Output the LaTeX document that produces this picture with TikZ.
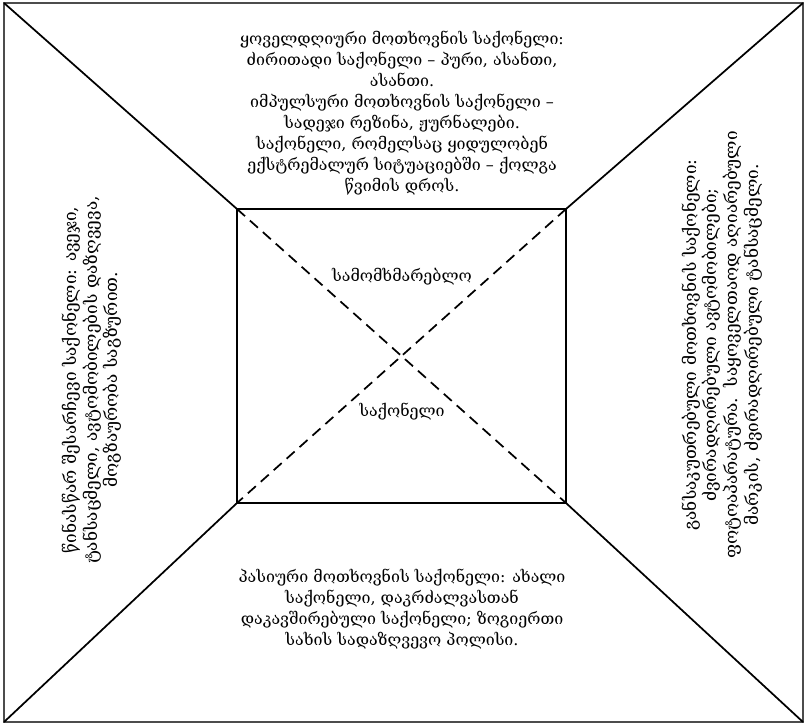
\documentclass[tikz,border=0pt]{standalone}
\usepackage{fontspec}
\newfontfamily\geo{DejaVu Serif}
\begin{document}
\begin{tikzpicture}[x=0.75pt,y=-0.75pt,
  ln/.style={draw=black,line width=1.3pt},
  txt/.style={font=\geo\fontsize{12}{15.75}\selectfont,align=center,inner sep=0pt},
  sidetxt/.style={font=\geo\fontsize{12.9}{15.5}\selectfont,align=center,inner sep=0pt,rotate=90}]
\useasboundingbox (0,0) rectangle (805,725);
\coordinate (O1) at (4,3);
\coordinate (O2) at (803,3);
\coordinate (O3) at (803,722);
\coordinate (O4) at (4,722);
\coordinate (I1) at (237,209);
\coordinate (I2) at (566,209);
\coordinate (I3) at (566,503);
\coordinate (I4) at (237,503);
\draw[ln,draw=black!70] (O1) -- (O2) -- (O3) -- (O4) -- cycle;
\draw[ln] (I1) -- (I2) -- (I3) -- (I4) -- cycle;
\draw[ln] (O1) -- (I1);
\draw[ln] (O2) -- (I2);
\draw[ln] (O3) -- (I3);
\draw[ln] (O4) -- (I4);
\draw[ln,dash pattern=on 8pt off 5pt] (I1) -- (I3);
\draw[ln,dash pattern=on 8pt off 5pt] (I2) -- (I4);
\node[txt] (top) at (402,113) {ყოველდღიური მოთხოვნის საქონელი:\\ძირითადი საქონელი – პური, ასანთი,\\ასანთი.\\იმპულსური მოთხოვნის საქონელი –\\სადეჯი რეზინა, ჟურნალები.\\საქონელი, რომელსაც ყიდულობენ\\ექსტრემალურ სიტუაციებში – ქოლგა\\წვიმის დროს.};
\node[txt,fill=white,inner sep=1pt] (c1) at (402,277) {სამომხმარებლო};
\node[txt,fill=white,inner sep=1pt] (c2) at (402,412) {საქონელი};
\node[txt] (bot) at (402,609) {პასიური მოთხოვნის საქონელი: ახალი\\საქონელი, დაკრძალვასთან\\დაკავშირებული საქონელი; ზოგიერთი\\სახის სადაზღვევო პოლისი.};
\node[sidetxt] (lft) at (92,380) {წინასწარ შესარჩევი საქონელი: ავეჯი,\\ტანსაცმელი, ავტომობილების დაზღვევა,\\მოგზაურობა საგზურით.};
\node[sidetxt] (rgt) at (722,345) {განსაკუთრებული მოთხოვნის საქონელი:\\ძვირადღირებული ავტომობილები;\\ფოტოაპარატურა.\ \ საყოველთაოდ აღიარებული\\მარკის, ძვირადღირებული ტანსაცმელი.};
\end{tikzpicture}
\end{document}
